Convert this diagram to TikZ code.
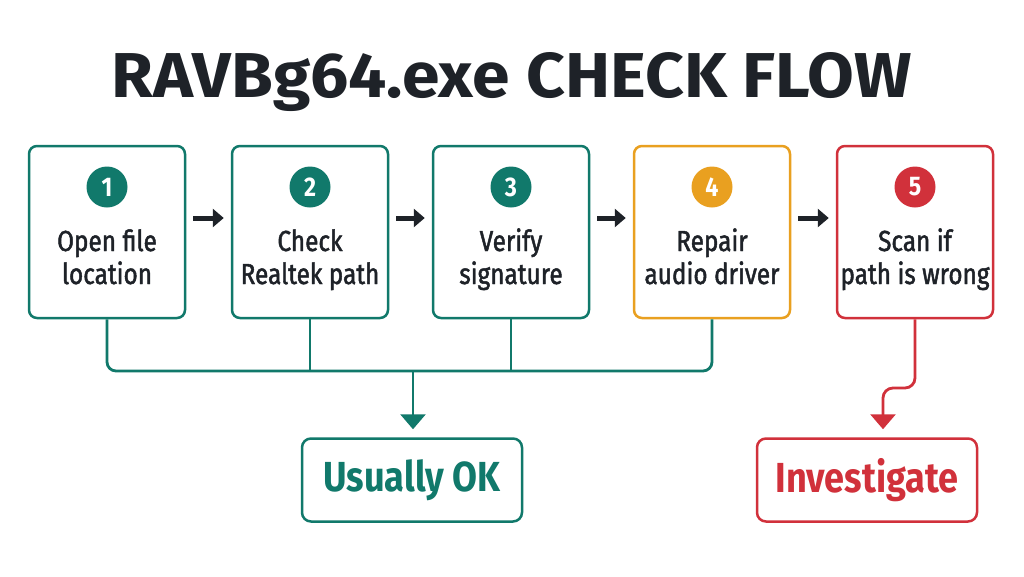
\documentclass[tikz,border=0pt]{standalone}
\usepackage{fontspec}
\setmainfont{Fira Sans}
\newfontfamily\bodyfont[FakeStretch=0.84,FakeBold=1.6]{Fira Sans}
\newfontfamily\boldbody[FakeStretch=0.86]{Fira Sans Bold}
\newfontfamily\titlefont[FakeStretch=0.9]{Fira Sans Bold}
\usetikzlibrary{arrows.meta}
\definecolor{teal}{HTML}{11796B}
\definecolor{orng}{HTML}{E9A020}
\definecolor{redd}{HTML}{D1313B}
\definecolor{dark}{HTML}{1E2228}
\tikzset{
  stepbox/.style={draw=#1, line width=2.5pt, rounded corners=8pt, minimum width=156pt, minimum height=172pt, fill=white},
  numcirc/.style={circle, fill=#1, minimum size=41pt, inner sep=0pt, text=white, font=\boldbody\fontsize{27}{27}\selectfont},
  lbl/.style={anchor=base, text=dark, inner sep=0pt, font=\bodyfont\fontsize{29}{34}\selectfont},
  outbox/.style={draw=#1, line width=2.5pt, rounded corners=9pt, minimum width=220pt, minimum height=83pt, text=#1, font=\boldbody\fontsize{42}{42}\selectfont},
  darr/.style={dark, line width=5pt, -{Triangle[length=11pt,width=18pt]}},
  conn/.style={draw=#1, line width=2.8pt},
}
\begin{document}
\begin{tikzpicture}[x=1pt,y=-1pt]
\useasboundingbox[fill=white] (0,0) rectangle (1024,576);
\node[anchor=base, text=dark, inner sep=0pt] (title) at (512,97) {\resizebox{800pt}{45pt}{\titlefont RAVBg64.exe CHECK FLOW}};
% boxes
\node[stepbox=teal] (b1) at (107,232) {};
\node[stepbox=teal] (b2) at (310,232) {};
\node[stepbox=teal] (b3) at (511,232) {};
\node[stepbox=orng] (b4) at (712,232) {};
\node[stepbox=redd] (b5) at (915,232) {};
% numbers
\node[numcirc=teal] (n1) at (107,187) {1};
\node[numcirc=teal] (n2) at (310,187) {2};
\node[numcirc=teal] (n3) at (511,187) {3};
\node[numcirc=orng] (n4) at (712,187) {4};
\node[numcirc=redd] (n5) at (915,187) {5};
% labels
\node[lbl] (t1a) at (107,251) {Open file};
\node[lbl] (t1b) at (107,284) {location};
\node[lbl] (t2a) at (310,251) {Check};
\node[lbl] (t2b) at (310,284) {Realtek path};
\node[lbl] (t3a) at (511,251) {Verify};
\node[lbl] (t3b) at (511,284) {signature};
\node[lbl] (t4a) at (712,251) {Repair};
\node[lbl] (t4b) at (712,284) {audio driver};
\node[lbl] (t5a) at (915,251) {Scan if};
\node[lbl] (t5b) at (915,284) {path is wrong};
% arrows between steps
\draw[darr] ([xshift=7pt,yshift=14pt]b1.east) -- ([xshift=-7pt,yshift=14pt]b2.west);
\draw[darr] ([xshift=7pt,yshift=14pt]b2.east) -- ([xshift=-7pt,yshift=14pt]b3.west);
\draw[darr] ([xshift=7pt,yshift=14pt]b3.east) -- ([xshift=-7pt,yshift=14pt]b4.west);
\draw[darr] ([xshift=7pt,yshift=14pt]b4.east) -- ([xshift=-7pt,yshift=14pt]b5.west);
% outcomes
\node[outbox=teal] (ok) at (412,480) {Usually OK};
\node[outbox=redd] (inv) at (867,480) {Investigate};
% bus
\coordinate (bus) at (413,371);
\draw[conn=teal, rounded corners=9pt] (b1.south) -- (b1.south |- bus) -- (b4.south |- bus) -- (b4.south);
\draw[conn=teal] (b2.south) -- (b2.south |- bus);
\draw[conn=teal] (b3.south) -- (b3.south |- bus);
\draw[conn=teal, -{Triangle[length=15pt,width=25pt]}, shorten >=8pt] (bus) -- (bus |- ok.north);
% red path
\coordinate (r1) at (883,388);
\draw[conn=redd, rounded corners=10pt, -{Triangle[length=15pt,width=25pt]}, shorten >=8pt] (b5.south) |- (r1) -- (r1 |- inv.north);
\end{tikzpicture}
\end{document}
